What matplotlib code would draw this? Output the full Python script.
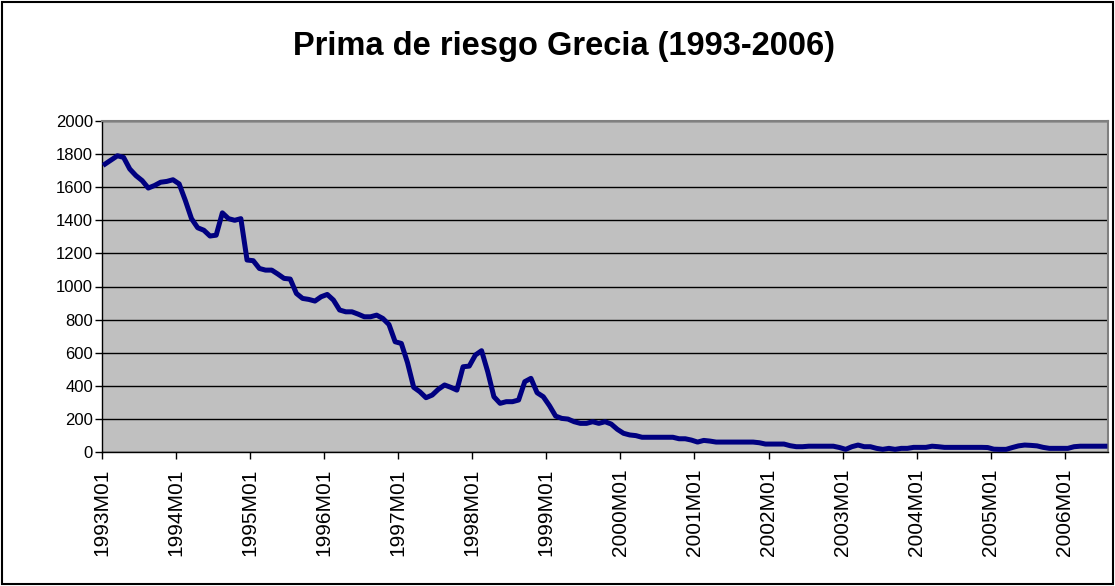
import matplotlib.pyplot as plt
from matplotlib.patches import Rectangle
import numpy as np

plt.rcParams['font.family'] = ['Liberation Sans', 'DejaVu Sans']

# Prima de riesgo mensual, 1993M01 - 2006M07 (puntos basicos)
prima = [
    1740, 1765, 1790, 1780, 1710, 1670, 1640, 1595, 1610, 1630, 1635, 1645,  # 1993
    1620, 1520, 1410, 1355, 1340, 1305, 1310, 1445, 1410, 1400, 1410, 1160,  # 1994
    1156, 1109, 1099, 1099, 1075, 1049, 1045, 958, 928, 922, 912, 938,       # 1995
    952, 918, 858, 847, 847, 833, 817, 817, 827, 807, 770, 666,              # 1996
    656, 540, 391, 364, 328, 344, 379, 405, 391, 374, 515, 519,              # 1997
    586, 612, 485, 334, 294, 304, 304, 314, 425, 445, 358, 334,              # 1998
    280, 217, 203, 199, 183, 173, 173, 183, 173, 183, 169, 137,              # 1999
    113, 103, 99, 89, 89, 89, 89, 89, 89, 80, 80, 72,                        # 2000
    60, 70, 66, 60, 60, 60, 60, 60, 60, 60, 56, 48,                          # 2001
    48, 48, 48, 38, 32, 32, 35, 35, 35, 35, 35, 27,                          # 2002
    16, 32, 42, 32, 32, 22, 16, 22, 16, 22, 22, 28,                          # 2003
    28, 28, 35, 32, 28, 28, 28, 28, 28, 28, 28, 27,                          # 2004
    17, 16, 16, 27, 37, 42, 40, 37, 28, 22, 22, 22,                          # 2005
    22, 32, 35, 35, 35, 35, 35,                                              # 2006
]

etiquetas = ['1993M01', '1994M01', '1995M01', '1996M01', '1997M01', '1998M01', '1999M01',
             '2000M01', '2001M01', '2002M01', '2003M01', '2004M01', '2005M01', '2006M01']
y_ticks = [0, 200, 400, 600, 800, 1000, 1200, 1400, 1600, 1800, 2000]

fig = plt.figure(figsize=(11.15, 5.86), dpi=100)
ax = fig.add_axes([102 / 1115, 1 - 452 / 586, (1108 - 102) / 1115, (452 - 121) / 586])

n = len(prima)
x = np.arange(n) + 0.5
ax.set_facecolor('#C0C0C0')
ax.plot(x, prima, color='#000080', linewidth=3.6, solid_joinstyle='round', zorder=3)

ax.set_xlim(0, n)
ax.set_ylim(0, 2000)
ax.set_yticks(y_ticks)
ax.set_yticklabels([str(v) for v in y_ticks], fontsize=12)
ax.set_xticks(np.arange(len(etiquetas)) * 12)
ax.set_xticklabels(etiquetas, rotation=90, fontsize=15)

ax.grid(axis='y', color='black', linewidth=1.0)
ax.set_axisbelow(True)

for s in ['top', 'right']:
    ax.spines[s].set_color('#808080')
    ax.spines[s].set_linewidth(1.5)
for s in ['left', 'bottom']:
    ax.spines[s].set_color('black')
    ax.spines[s].set_linewidth(1.0)

ax.tick_params(axis='y', direction='out', length=5, width=1, pad=1.5)
ax.tick_params(axis='x', direction='out', length=5, width=1, pad=7)

fig.text(564 / 1115, 1 - 46 / 586, 'Prima de riesgo Grecia (1993-2006)',
         ha='center', va='center', fontsize=23.5, fontweight='bold')

# borde del area del grafico
fig.patches.append(Rectangle((0.002, 0.003), 0.996, 0.994, transform=fig.transFigure,
                             fill=False, edgecolor='black', linewidth=1.5))

fig.savefig('out.png', dpi=100, facecolor='white')
